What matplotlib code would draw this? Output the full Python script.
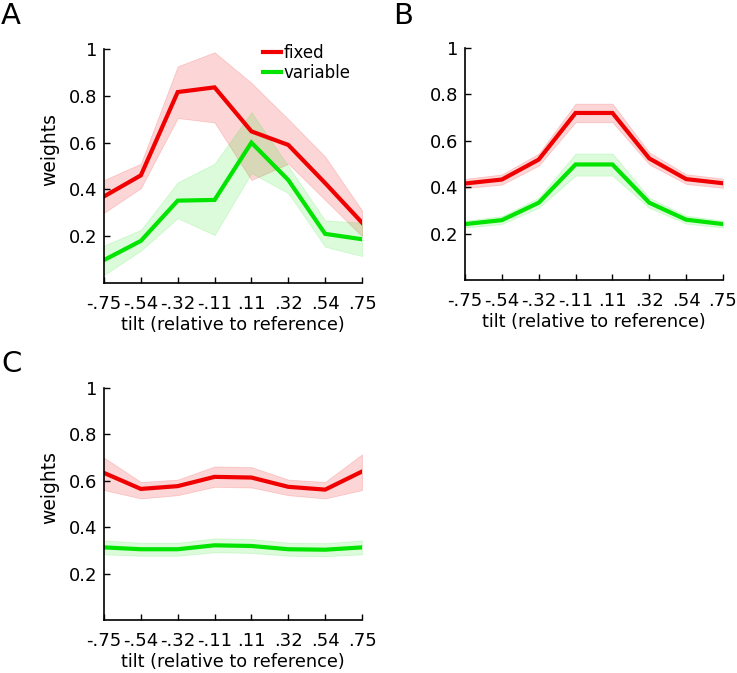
import matplotlib
matplotlib.use("Agg")
import matplotlib.pyplot as plt
import numpy as np

plt.rcParams['font.family'] = ['DejaVu Sans']

tick_labels = ['-.75', '-.54', '-.32', '-.11', '.11', '.32', '.54', '.75']

# Panel A
a_fixed = [0.37, 0.46, 0.816, 0.836, 0.648, 0.59, 0.427, 0.258]
a_fixed_hi = [0.44, 0.51, 0.926, 0.986, 0.855, 0.70, 0.54, 0.31]
a_fixed_lo = [0.30, 0.405, 0.705, 0.686, 0.44, 0.51, 0.355, 0.20]
a_var = [0.098, 0.18, 0.352, 0.355, 0.60, 0.44, 0.21, 0.187]
a_var_hi = [0.16, 0.227, 0.43, 0.51, 0.73, 0.50, 0.267, 0.258]
a_var_lo = [0.034, 0.138, 0.277, 0.205, 0.47, 0.384, 0.155, 0.115]

# Panel B
b_fixed = [0.416, 0.433, 0.519, 0.72, 0.72, 0.524, 0.435, 0.417]
b_fixed_hi = [0.436, 0.455, 0.545, 0.76, 0.76, 0.55, 0.456, 0.437]
b_fixed_lo = [0.396, 0.411, 0.493, 0.68, 0.68, 0.498, 0.414, 0.397]
b_var = [0.241, 0.258, 0.333, 0.498, 0.498, 0.333, 0.26, 0.241]
b_var_hi = [0.256, 0.275, 0.355, 0.545, 0.545, 0.355, 0.277, 0.256]
b_var_lo = [0.226, 0.241, 0.311, 0.45, 0.45, 0.311, 0.243, 0.226]

# Panel C
c_fixed = [0.634, 0.565, 0.577, 0.617, 0.614, 0.574, 0.562, 0.64]
c_fixed_hi = [0.70, 0.595, 0.605, 0.662, 0.659, 0.605, 0.595, 0.714]
c_fixed_lo = [0.56, 0.524, 0.538, 0.574, 0.571, 0.538, 0.524, 0.56]
c_var = [0.313, 0.305, 0.305, 0.322, 0.319, 0.305, 0.303, 0.313]
c_var_hi = [0.343, 0.333, 0.333, 0.352, 0.349, 0.333, 0.331, 0.343]
c_var_lo = [0.283, 0.277, 0.277, 0.292, 0.289, 0.277, 0.275, 0.283]

RED = '#f00000'
GREEN = '#00e400'

W, H = 737, 673
fig = plt.figure(figsize=(W / 100, H / 100), dpi=100)


def px_rect(left, top, right, bottom):
    return [left / W, 1 - bottom / H, (right - left) / W, (bottom - top) / H]


def panel(rect, letter, letter_xy, fx, fhi, flo, vx, vhi, vlo, ylabel=True, legend=False):
    ax = fig.add_axes(rect)
    x = np.arange(len(tick_labels))
    ax.fill_between(x, flo, fhi, color=RED, alpha=0.16, edgecolor=RED, linewidth=0.6)
    lf, = ax.plot(x, fx, color=RED, lw=3, solid_joinstyle='miter', label='fixed')
    ax.fill_between(x, vlo, vhi, color=GREEN, alpha=0.14, edgecolor=GREEN, linewidth=0.6)
    lv, = ax.plot(x, vx, color=GREEN, lw=3, solid_joinstyle='miter', label='variable')
    ax.set_xlim(0, 7)
    ax.set_ylim(0, 1)
    ax.set_xticks(x)
    ax.set_xticklabels(tick_labels)
    ax.set_yticks([0.2, 0.4, 0.6, 0.8, 1.0])
    ax.set_yticklabels(['0.2', '0.4', '0.6', '0.8', '1'])
    ax.tick_params(direction='in', length=4, width=1, labelsize=13)
    ax.tick_params(axis='x', pad=8.5)
    ax.tick_params(axis='y', pad=5)
    for s in ['top', 'right']:
        ax.spines[s].set_visible(False)
    for s in ['left', 'bottom']:
        ax.spines[s].set_linewidth(1.2)
    ax.set_xlabel('tilt (relative to reference)', fontsize=12.7, labelpad=2.5)
    if ylabel:
        ax.set_ylabel('weights', fontsize=13.5)
        ax.yaxis.set_label_coords(-0.175, 0.57)
    if legend:
        ax.legend(handles=[lf, lv], loc='upper left', frameon=False, fontsize=12,
                  handlelength=1.1, handletextpad=0.15, labelspacing=0.12,
                  borderaxespad=0.0, borderpad=0.0, bbox_to_anchor=(0.615, 1.02))
    fig.text(letter_xy[0] / W, 1 - letter_xy[1] / H, letter, fontsize=21,
             va='center', ha='left')
    return ax


panel(px_rect(104, 49, 362, 283), 'A', (1, 16), a_fixed, a_fixed_hi, a_fixed_lo,
      a_var, a_var_hi, a_var_lo, legend=True)
panel(px_rect(465, 48, 723, 280), 'B', (393, 16), b_fixed, b_fixed_hi, b_fixed_lo,
      b_var, b_var_hi, b_var_lo, ylabel=False)
panel(px_rect(104, 388, 362, 620), 'C', (1, 364), c_fixed, c_fixed_hi, c_fixed_lo,
      c_var, c_var_hi, c_var_lo)

fig.savefig('out.png', dpi=100)
